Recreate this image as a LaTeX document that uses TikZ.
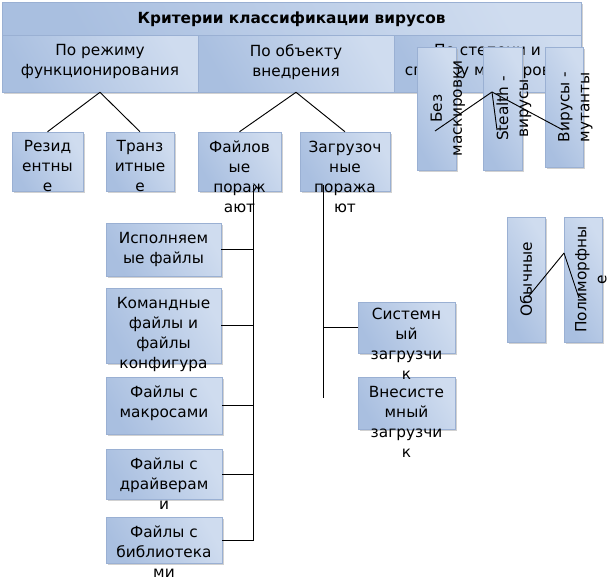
\documentclass[tikz,border=0pt]{standalone}
\usepackage{fontspec}
\setmainfont{DejaVu Sans}
\usepackage{tikz}
\usetikzlibrary{positioning}
\usetikzlibrary{fit,shadows}
\definecolor{boxlight}{HTML}{CFDCEF}
\definecolor{boxdark}{HTML}{A9BFE0}
\definecolor{boxedge}{HTML}{9AB0D3}
\tikzstyle{block} = [rectangle, draw=boxedge, left color=boxdark, right color=boxlight,
    shading angle=120, inner sep=0pt,
    drop shadow={shadow xshift=1.2pt, shadow yshift=-1.5pt, fill=black!30, opacity=0.6}]
\tikzstyle{txt} = [align=center, inner sep=0pt, font=\fontsize{11.5}{15}\selectfont,
    execute at begin node=\strut]
\tikzstyle{rtxt} = [rotate=90, align=center, inner sep=0pt, font=\fontsize{11.5}{15}\selectfont]
\tikzstyle{link} = [draw, black, line width=0.7pt]

\begin{document}
\begin{tikzpicture}[x=0.75pt, y=-0.75pt]
        \useasboundingbox (0,0) rectangle (610,579);
        % header
        \node [block, fit={(2,2) (581,35)}] (title) {};
        \node [font=\bfseries\fontsize{11.5}{15}\selectfont] at ([yshift=-0.5pt]title.center) {Критерии классификации вирусов};
        \node [block, fit={(2,35) (198,92)}] (hdr1) {};
        \node [block, fit={(198,35) (394,92)}] (hdr2) {};
        \node [block, fit={(394,35) (581,92)}] (hdr3) {};
        \node [txt, below=7pt of hdr1.north] {По режиму\\функционирования};
        \node [txt, below=7pt of hdr2.north] {По объекту\\внедрения};
        \node [txt, below=7pt of hdr3.north] {По степени и\\способу маскировки};
        % second level
        \node [block, fit={(12,132) (83,191)}] (res) {};
        \node [block, fit={(106,132) (174,191)}] (tran) {};
        \node [block, fit={(198,132) (281,191)}] (fil) {};
        \node [block, fit={(300,132) (390,191)}] (zag) {};
        \node [txt, below=6.5pt of res.north] {Резид\\ентны\\е};
        \node [txt, below=6.5pt of tran.north] {Транз\\итные\\е};
        \node [txt, below=6.5pt of fil.north] {Файлов\\ые\\пораж\\ают};
        \node [txt, below=6.5pt of zag.north] {Загрузоч\\ные\\поража\\ют};
        \node [block, fit={(417,47) (456,170)}] (bez) {};
        \node [block, fit={(483,47) (522,170)}] (stealth) {};
        \node [block, fit={(545,47) (583,167)}] (mut) {};
        \node [rtxt] at ([xshift=8.5pt]bez.center) {Без\\маскировки};
        \node [rtxt] at ([xshift=8.5pt]stealth.center) {Stealth -\\вирусы};
        \node [rtxt] at ([xshift=8.5pt]mut.center) {Вирусы -\\мутанты};
        \node [block, fit={(507,217) (545,342)}] (obych) {};
        \node [block, fit={(564,217) (602,342)}] (poly) {};
        \node [rtxt] at (obych.center) {Обычные};
        \node [rtxt] at ([xshift=6pt]poly.center) {Полиморфны\\е};
        % file viruses
        \node [block, fit={(106,223) (221,276)}] (isp) {};
        \node [block, fit={(106,288) (221,363)}] (kom) {};
        \node [block, fit={(106,377) (222,434)}] (makr) {};
        \node [block, fit={(106,449) (222,499)}] (drv) {};
        \node [block, fit={(106,517) (222,563)}] (lib) {};
        \node [txt, below=7pt of isp.north] {Исполняем\\ые файлы};
        \node [txt, below=7pt of kom.north] {Командные\\файлы и\\файлы\\конфигура};
        \node [txt, below=7pt of makr.north] {Файлы с\\макросами};
        \node [txt, below=7pt of drv.north] {Файлы с\\драйверам\\и};
        \node [txt, below=6.5pt of lib.north] {Файлы с\\библиотека\\ми};
        % boot viruses
        \node [block, fit={(358,302) (455,353)}] (sys) {};
        \node [block, fit={(358,377) (455,429)}] (vnes) {};
        \node [txt, below=4.5pt of sys.north] {Системн\\ый\\загрузчи\\к};
        \node [txt, below=7pt of vnes.north] {Внесисте\\мный\\загрузчи\\к};
        % edges
        \coordinate (maskTop) at (492,92);
        \coordinate (bezEnd) at (435,131);
        \coordinate (stEnd) at (497,130);
        \coordinate (mutEnd) at (563,130);
        \coordinate (polyTop) at (564,253);
        \coordinate (obEnd) at (528,297);
        \coordinate (polyEnd) at (579,298);
        \coordinate (filTrunk) at (253,185);
        \coordinate (zagTrunk) at (323,185);
        \coordinate (zagEnd) at (323,398);
        \path [link] (hdr1.south) -- (res.north);
        \path [link] (hdr1.south) -- (tran.north);
        \path [link] (hdr2.south) -- (fil.north);
        \path [link] (hdr2.south) -- (zag.north);
        \path [link] (maskTop) -- (bezEnd);
        \path [link] (maskTop) -- (stEnd);
        \path [link] (maskTop) -- (mutEnd);
        \path [link] (polyTop) -- (obEnd);
        \path [link] (polyTop) -- (polyEnd);
        \path [link] (filTrunk) |- (isp.east);
        \path [link] (filTrunk) |- (kom.east);
        \path [link] (filTrunk) |- (makr.east);
        \path [link] (filTrunk) |- (drv.east);
        \path [link] (filTrunk) |- (lib.east);
        \path [link] (zagTrunk) |- (sys.west);
        \path [link] (zagTrunk) -- (zagEnd);
    \end{tikzpicture}
\end{document}
